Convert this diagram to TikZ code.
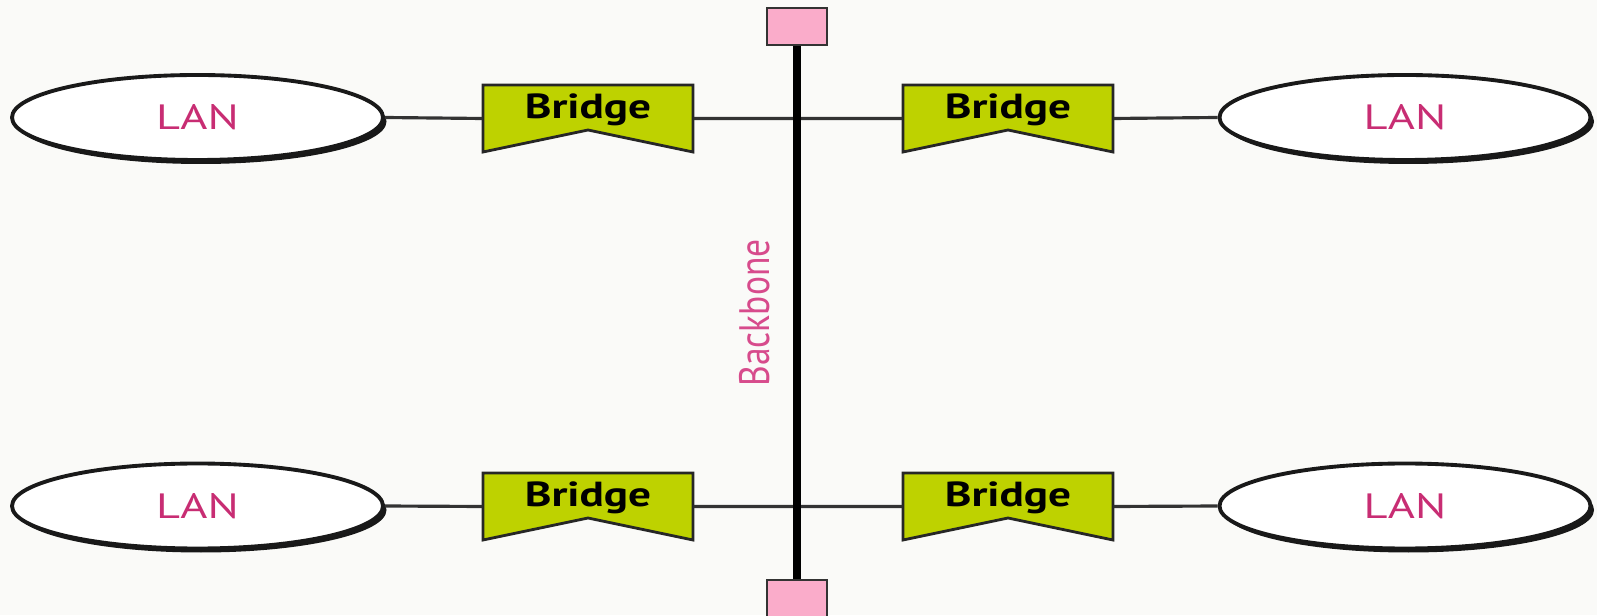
\documentclass[tikz,border=0pt]{standalone}
\usepackage{fontspec}
\setsansfont{PT Sans}
\usepackage{graphicx}
\usepackage{tikz}
\usetikzlibrary{shapes.geometric,shadows}
\definecolor{bridgeG}{RGB}{190,210,0}
\definecolor{lanPink}{RGB}{200,45,115}
\definecolor{bbPink}{RGB}{215,75,140}
\definecolor{termPink}{RGB}{250,172,202}
\definecolor{bgPaper}{RGB}{250,250,248}
\newcommand{\widetext}[2]{\scalebox{#1}[1]{#2}}

\begin{document}
\begin{tikzpicture}[every node/.style={font=\sffamily}]
  \tikzset{
    lan/.style={ellipse, draw=black!90, line width=1.1pt, fill=white,
      minimum width=3.71cm, minimum height=0.85cm, inner sep=0pt,
      text=lanPink, font=\sffamily\fontsize{10}{11}\selectfont,
      drop shadow={shadow xshift=0.035cm, shadow yshift=-0.04cm, opacity=0.9, fill=black}},
    bridgebox/.style={minimum width=2.1cm, minimum height=0.67cm, inner sep=0pt,
      text height=0.25cm, text depth=0.25cm,
      font=\sffamily\bfseries\fontsize{9.9}{11}\selectfont},
    term/.style={draw=black!80, fill=termPink, line width=0.8pt,
      minimum width=0.6cm, minimum height=0.37cm, inner sep=0pt},
    link/.style={line width=0.9pt, black!80},
  }
  \fill[bgPaper] (0,0) rectangle (15.97,6.15);
  \useasboundingbox (0,0) rectangle (15.97,6.15);

  % ---------------- BRIDGES ----------------
  \foreach \n/\x/\y in {brA/5.88/4.965, brB/10.08/4.965, brC/5.88/1.085, brD/10.08/1.085} {
    \filldraw[fill=bridgeG, draw=black!85, line width=0.8pt]
      (\x-1.05,\y+0.335) -- (\x+1.05,\y+0.335) -- (\x+1.05,\y-0.335)
      -- (\x,\y-0.115) -- (\x-1.05,\y-0.335) -- cycle;
    \node[bridgebox] (\n) at (\x,\y) {\widetext{1.3}{Bridge}};
  }

  % ---------------- LANS ----------------
  \node[lan] (lanA) at (1.975,4.975) {\widetext{1.32}{LAN}};
  \node[lan] (lanB) at (14.05,4.975) {\widetext{1.32}{LAN}};
  \node[lan] (lanC) at (1.975,1.09) {\widetext{1.32}{LAN}};
  \node[lan] (lanD) at (14.05,1.09) {\widetext{1.32}{LAN}};

  % ---------------- BACKBONE ----------------
  \node[term] (tA) at (7.97,5.885) {};
  \node[term] (tB) at (7.97,0.165) {};
  \node[rotate=90, text=bbPink, font=\sffamily\fontsize{10.1}{11}\selectfont] (bbLabel) at (7.55,3.02) {\scalebox{1}[1.2]{Backbone}};

  \draw[link] (lanA.east) -- (brA.west) (brA.east) -- (brB.west) (brB.east) -- (lanB.west);
  \draw[link] (lanC.east) -- (brC.west) (brC.east) -- (brD.west) (brD.east) -- (lanD.west);
  \draw[line width=2.3pt] (tA.south) -- (tB.north);
\end{tikzpicture}
\end{document}
